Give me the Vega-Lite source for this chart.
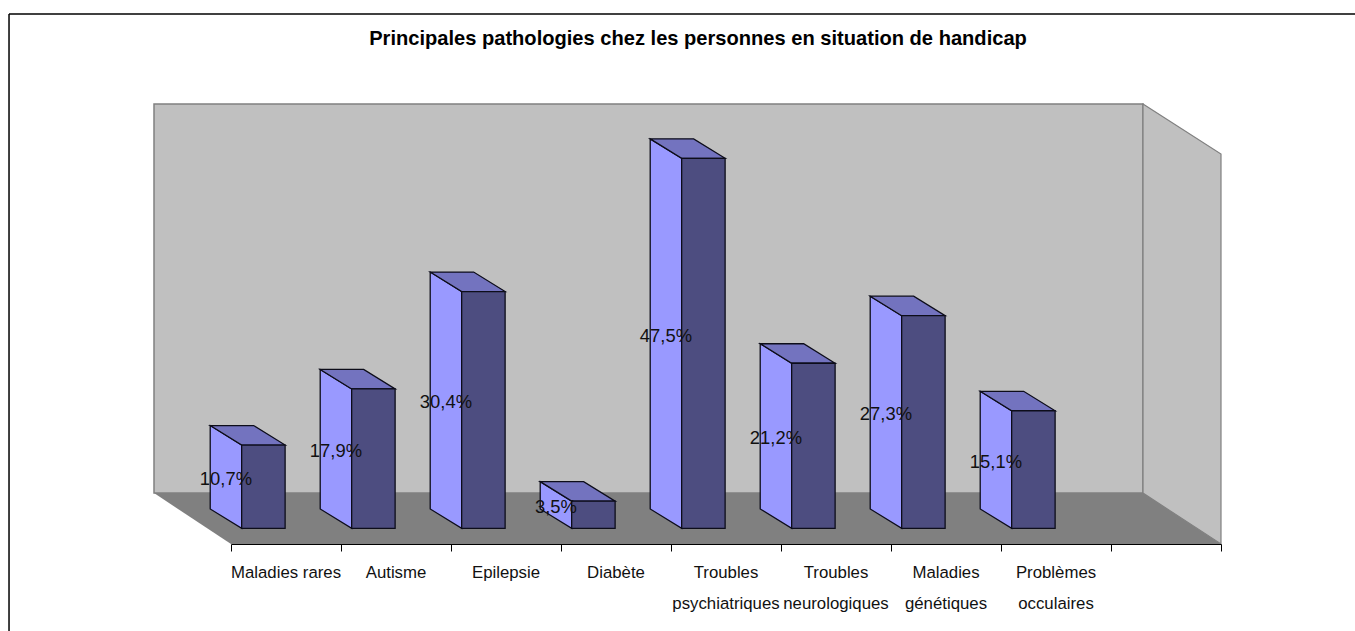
{
"$schema":"https://vega.github.io/schema/vega-lite/v6.json",
"width":990,"height":440,
"autosize":"none",
"padding":{"left":231,"right":134,"top":104,"bottom":87},
"background":"white",
"config":{"view":{"stroke":null},"text":{"font":"Liberation Sans"}},
"title":{"text":"Principales pathologies chez les personnes en situation de handicap","font":"Liberation Sans","fontSize":20.1,"fontWeight":"bold","color":"black","anchor":"middle","dx":-28,"offset":-36},
"data":{"values":[
{"position":0,"category":"Maladies rares","value":10.7,"label":"10,7%"},
{"position":1,"category":"Autisme","value":17.9,"label":"17,9%"},
{"position":2,"category":"Epilepsie","value":30.4,"label":"30,4%"},
{"position":3,"category":"Diabète","value":3.5,"label":"3,5%"},
{"position":4,"category":"Troubles\npsychiatriques","value":47.5,"label":"47,5%"},
{"position":5,"category":"Troubles\nneurologiques","value":21.2,"label":"21,2%"},
{"position":6,"category":"Maladies\ngénétiques","value":27.3,"label":"27,3%"},
{"position":7,"category":"Problèmes\nocculaires","value":15.1,"label":"15,1%"}
]},
"encoding":{
"x":{"type":"quantitative","scale":{"domain":[0,9]},"title":null,"axis":{"values":[0,1,2,3,4,5,6,7,8,9],"labels":false,"title":null,"grid":false,"tickSize":7,"tickColor":"black","domainColor":"black","tickWidth":1,"domainWidth":1.2,"zindex":1}},
"y":{"type":"quantitative","scale":{"domain":[-2,54.47]},"title":null,"axis":null}
},
"layer":[
{"data":{"values":[{"surface":"back wall"}]},
 "mark":{"type":"rect","fill":"#C0C0C0","stroke":"#808080","strokeWidth":1.5},
 "encoding":{"x":{"datum":-0.7},"x2":{"datum":8.291},"y":{"datum":54.47},"y2":{"datum":4.53}}},
{"data":{"values":[{"edge":0},{"edge":1}]},
 "transform":[{"calculate":"8.291+datum.edge*0.709","as":"xw"},{"calculate":"54.47-datum.edge*6.42","as":"top"},{"calculate":"4.53-datum.edge*6.53","as":"bottom"}],
 "mark":{"type":"area","fill":"#C0C0C0","stroke":"#808080","strokeWidth":1.2},
 "encoding":{"x":{"field":"xw","type":"quantitative"},"y":{"field":"top","type":"quantitative"},"y2":{"field":"bottom"}}},
{"data":{"values":[{"edge":0},{"edge":1}]},
 "transform":[{"calculate":"4.53-datum.edge*6.53","as":"yf"},{"calculate":"-0.7+datum.edge*0.7","as":"xl"},{"calculate":"8.291+datum.edge*0.709","as":"xr"}],
 "mark":{"type":"area","orient":"horizontal","fill":"#808080"},
 "encoding":{"y":{"field":"yf","type":"quantitative"},"x":{"field":"xl","type":"quantitative"},"x2":{"field":"xr"}}},
{"data":{"values":[{"frame":"left"}]},
 "mark":{"type":"rule","color":"black","strokeWidth":1.5},
 "encoding":{"x":{"datum":-2.018},"y":{"datum":66.02},"y2":{"datum":-13.16}}},
{"data":{"values":[{"frame":"top"}]},
 "mark":{"type":"rule","color":"black","strokeWidth":1.5},
 "encoding":{"x":{"datum":-2.018},"x2":{"datum":10.22},"y":{"datum":66.02}}},
{"transform":[{"calculate":"[0,1]","as":"edge"},{"flatten":["edge"]},
  {"calculate":"datum.position-0.189+datum.edge*0.286","as":"xs"},
  {"calculate":"datum.value+2.5*(1-datum.edge)","as":"top"},
  {"calculate":"2.5*(1-datum.edge)","as":"bottom"}],
 "mark":{"type":"area","fill":"#9999FF","stroke":"#0D0D1A","strokeWidth":1.3},
 "encoding":{"x":{"field":"xs","type":"quantitative"},"y":{"field":"top","type":"quantitative"},"y2":{"field":"bottom"},"detail":{"field":"category"}}},
{"transform":[{"calculate":"[0,1]","as":"edge"},{"flatten":["edge"]},
  {"calculate":"datum.value+2.5*(1-datum.edge)","as":"yt"},
  {"calculate":"datum.position-0.189+datum.edge*0.286","as":"xa"},
  {"calculate":"datum.position+0.097+0.395-0.286*(1-datum.edge)","as":"xb"}],
 "mark":{"type":"area","orient":"horizontal","fill":"#7373BF","stroke":"#0D0D1A","strokeWidth":1.3},
 "encoding":{"y":{"field":"yt","type":"quantitative"},"x":{"field":"xa","type":"quantitative"},"x2":{"field":"xb"},"detail":{"field":"category"}}},
{"transform":[{"calculate":"datum.position+0.097","as":"xa"},{"calculate":"datum.position+0.492","as":"xb"}],
 "mark":{"type":"rect","fill":"#4D4D80","stroke":"#0D0D1A","strokeWidth":1.3},
 "encoding":{"x":{"field":"xa","type":"quantitative"},"x2":{"field":"xb"},"y":{"field":"value","type":"quantitative"},"y2":{"datum":0}}},
{"transform":[{"calculate":"datum.position-0.046","as":"xl"},{"calculate":"datum.value/2+1.0","as":"yl"}],
 "mark":{"type":"text","fontSize":18.4,"color":"#111111","align":"center","baseline":"middle"},
 "encoding":{"x":{"field":"xl","type":"quantitative"},"y":{"field":"yl","type":"quantitative"},"text":{"field":"label"}}},
{"transform":[{"calculate":"datum.position+0.5","as":"xc"}],
 "mark":{"type":"text","fontSize":16.8,"color":"#111111","align":"center","baseline":"top","lineBreak":"\n","lineHeight":31},
 "encoding":{"x":{"field":"xc","type":"quantitative"},"y":{"datum":-4.73},"text":{"field":"category"}}}
]
}
